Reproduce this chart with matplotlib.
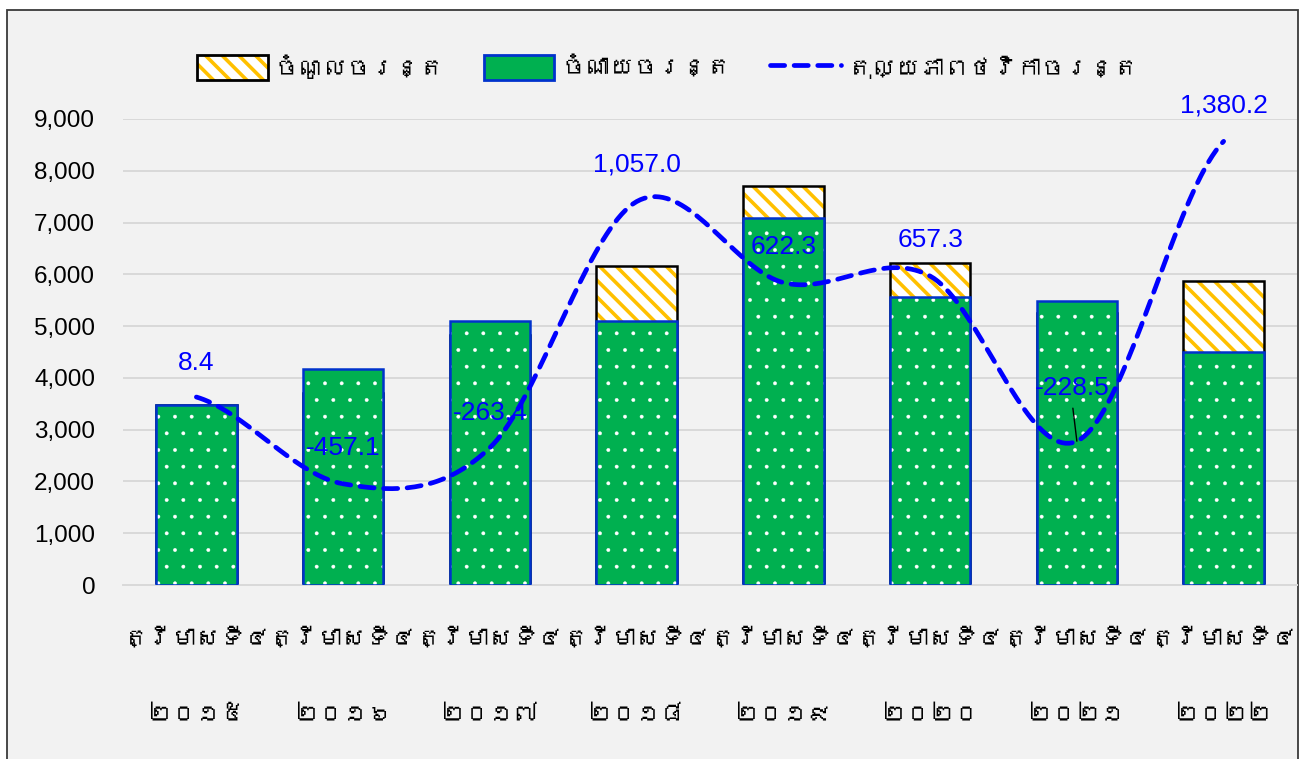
import numpy as np
import matplotlib
matplotlib.use("Agg")
import matplotlib.pyplot as plt
from matplotlib import font_manager as fm
from matplotlib.ft2font import FT2Font
from matplotlib.patches import Patch, Rectangle
from matplotlib.lines import Line2D
from matplotlib.legend_handler import HandlerTuple

# ---------------- data ----------------
categories = ["ត្រីមាសទី៤\n២០១៥", "ត្រីមាសទី៤\n២០១៦", "ត្រីមាសទី៤\n២០១៧", "ត្រីមាសទី៤\n២០១៨",
              "ត្រីមាសទី៤\n២០១៩", "ត្រីមាសទី៤\n២០២០", "ត្រីមាសទី៤\n២០២១", "ត្រីមាសទី៤\n២០២២"]
revenue = [3478, 3713, 4837, 6157, 7702, 6217, 5252, 5880]       # ចំណូលចរន្ត
expenditure = [3470, 4170, 5100, 5100, 7080, 5560, 5480, 4500]   # ចំណាយចរន្ត
balance = [8.4, -457.1, -263.4, 1057.0, 622.3, 657.3, -228.5, 1380.2]  # តុល្យភាពថវិកាចរន្ត
balance_labels = ["8.4", "-457.1", "-263.4", "1,057.0", "622.3", "657.3", "-228.5", "1,380.2"]
legend_names = ["ចំណូលចរន្ត", "ចំណាយចរន្ត", "តុល្យភាពថវិកាចរន្ត"]
yticks = [0, 1000, 2000, 3000, 4000, 5000, 6000, 7000, 8000, 9000]

# ---------------- fonts ----------------
def font_with(ch):
    for f in fm.fontManager.ttflist:
        try:
            if ord(ch) in FT2Font(f.fname).get_charmap():
                return f.name
        except Exception:
            pass
    return None

khmer = font_with("ក")
num_family = ["Liberation Sans", "DejaVu Sans"]
kh_family = ([khmer] if khmer else []) + ["DejaVu Sans"]
names = {f.name for f in fm.fontManager.ttflist}
narrow = ["Liberation Sans Narrow"] if "Liberation Sans Narrow" in names else ["Liberation Sans"]

plt.rcParams["font.family"] = num_family

W, H = 1302, 759
fig = plt.figure(figsize=(W / 100, H / 100), dpi=100, facecolor="white")
fig.patches.append(Rectangle((7 / W, -0.01), (1298 - 7) / W, (759 - 10) / H + 0.01,
                             transform=fig.transFigure, facecolor="#F2F2F2",
                             edgecolor="#3a3a3a", linewidth=1.3, zorder=-10))

ax = fig.add_axes([123 / W, 1 - 585 / H, (1297 - 123) / W, (585 - 119) / H])
ax.set_facecolor("none")
x = np.arange(len(categories))
bw = 0.55

# revenue bars (hatched, behind)
ax.bar(x, revenue, bw, color="white", edgecolor="none", zorder=2)
with plt.rc_context({"hatch.linewidth": 2.6}):
    ax.bar(x, revenue, bw, color="none", edgecolor="#FFC000", hatch="\\\\", linewidth=0, zorder=2.1)
ax.bar(x, revenue, bw, color="none", edgecolor="black", linewidth=1.8, zorder=2.2)
# expenditure bars (green dotted, front)
ax.bar(x, expenditure, bw, color="#00B050", edgecolor="none", zorder=3)
with plt.rc_context({"hatch.linewidth": 0.3}):
    ax.bar(x, expenditure, bw, color="none", edgecolor="white", hatch=".", linewidth=0, zorder=3.1)
ax.bar(x, expenditure, bw, color="none", edgecolor="#0033CC", linewidth=1.8, zorder=3.2)

ax.set_ylim(0, 9000)
ax.set_xlim(-0.5, len(categories) - 0.5)
ax.set_yticks(yticks)
ax.set_yticklabels([f"{v:,}" for v in yticks], fontsize=17.5, family=num_family)
ax.yaxis.grid(True, color="#D9D9D9", linewidth=1.4, zorder=0)
ax.set_axisbelow(True)
ax.tick_params(axis="y", length=0, pad=20)
ax.tick_params(axis="x", length=0, pad=30)
ax.set_xticks(x)
ax.set_xticklabels(categories, fontsize=17.5, family=kh_family, linespacing=4.3)
for s in ["left", "right", "top"]:
    ax.spines[s].set_visible(False)
ax.spines["bottom"].set_color("#D9D9D9")
ax.spines["bottom"].set_linewidth(1.4)

# balance line on hidden secondary axis, smoothed (Catmull-Rom like Excel)
ax2 = ax.twinx()
ax2.set_ylim(-1000, 1500)
ax2.set_xlim(ax.get_xlim())
ax2.axis("off")
b = np.array(balance, dtype=float)
n = len(b)
xs, ys = [], []
for i in range(n - 1):
    p0 = b[i - 1] if i > 0 else b[i]
    p1, p2 = b[i], b[i + 1]
    p3 = b[i + 2] if i + 2 < n else b[i + 1]
    m1 = (p2 - p0) / 2.0
    m2 = (p3 - p1) / 2.0
    t = np.linspace(0, 1, 40)
    h00 = 2 * t**3 - 3 * t**2 + 1
    h10 = t**3 - 2 * t**2 + t
    h01 = -2 * t**3 + 3 * t**2
    h11 = t**3 - t**2
    xs.extend(i + t)
    ys.extend(h00 * p1 + h10 * m1 + h01 * p2 + h11 * m2)
ax2.plot(xs, ys, color="#0000FF", linewidth=3.4, linestyle=(0, (3, 2)),
         dash_capstyle="round", zorder=5)

offsets = [(0, 34), (0, 36), (0, 35), (0, 37), (0, 36), (0, 36), (-5, 53), (0, 36)]
for i, (v, lab) in enumerate(zip(balance, balance_labels)):
    dx, dy = offsets[i]
    ax2.annotate(lab, (i, v), xytext=(dx, dy), textcoords="offset pixels",
                 ha="center", va="center", color="#0000FF", fontsize=19,
                 family=narrow, zorder=6)
# leader line for the moved label
ax2.annotate("", (6, balance[6]), xytext=(-4, 33), textcoords="offset pixels",
             arrowprops=dict(arrowstyle="-", color="black", lw=1, shrinkA=0, shrinkB=0))

with plt.rc_context({"hatch.linewidth": 2.6}):
    h_rev_fill = Patch(facecolor="white", edgecolor="#FFC000", hatch="\\\\", linewidth=0)
    h_rev_edge = Patch(facecolor="none", edgecolor="black", linewidth=2)
    handles = [(h_rev_fill, h_rev_edge),
               Patch(facecolor="#00B050", edgecolor="#0033CC", linewidth=2),
               Line2D([0], [0], color="#0000FF", linewidth=3.4, linestyle=(0, (3, 2)),
                      dash_capstyle="round")]
    leg = fig.legend(handles, legend_names, loc="center", bbox_to_anchor=(668 / W, 1 - 67 / H),
                     ncol=3, frameon=False, prop={"family": kh_family, "size": 17.5},
                     handlelength=2.9, handleheight=1.2, handletextpad=0.3, columnspacing=1.6,
                     handler_map={tuple: HandlerTuple(ndivide=1, pad=0)})
fig.savefig("out.png", dpi=100, facecolor="white")
